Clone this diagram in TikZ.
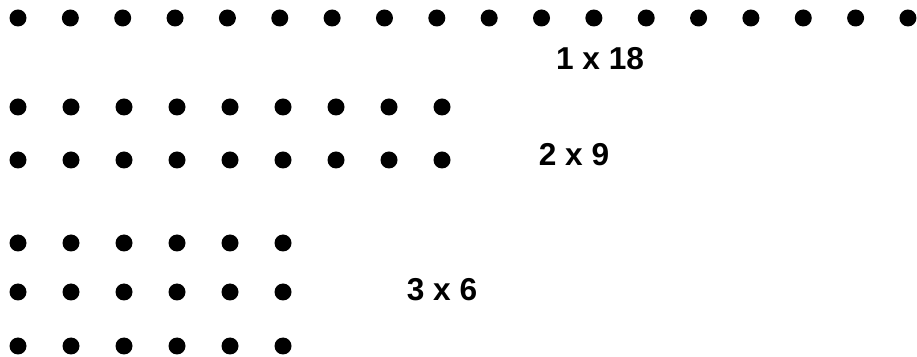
\documentclass[tikz,border=0pt]{standalone}
\usepackage{fontspec}
\setmainfont{Liberation Sans}
\tikzset{
  dot/.style={circle, fill=black, draw=none, inner sep=0pt, minimum size=0.34cm},
  lbl/.style={black, inner sep=0pt, font=\bfseries\fontsize{18}{20}\selectfont}
}
\begin{document}
\begin{tikzpicture}
            \useasboundingbox (0.00,0.00) rectangle (18.34,-7.14);
            % 1 x 18
            \foreach \i in {0,...,17}
              \node[dot] (a\i) at ({0.36+1.047*\i},-0.36) {};
            \node[lbl] (laba) at (12.00,-1.18) {1 x 18};
            % 2 x 9
            \foreach \i in {0,...,8} {
              \node[dot] (b\i) at ({0.36+1.06*\i},-2.14) {};
              \node[dot] (c\i) at ({0.36+1.06*\i},-3.20) {};
            }
            \node[lbl] (labb) at (11.48,-3.09) {2 x 9};
            % 3 x 6
            \foreach \i in {0,...,5} {
              \node[dot] (d\i) at ({0.36+1.06*\i},-4.86) {};
              \node[dot] (e\i) at ({0.36+1.06*\i},-5.84) {};
              \node[dot] (f\i) at ({0.36+1.06*\i},-6.92) {};
            }
            \node[lbl] (labc) at (8.84,-5.80) {3 x 6};
\end{tikzpicture}
\end{document}
